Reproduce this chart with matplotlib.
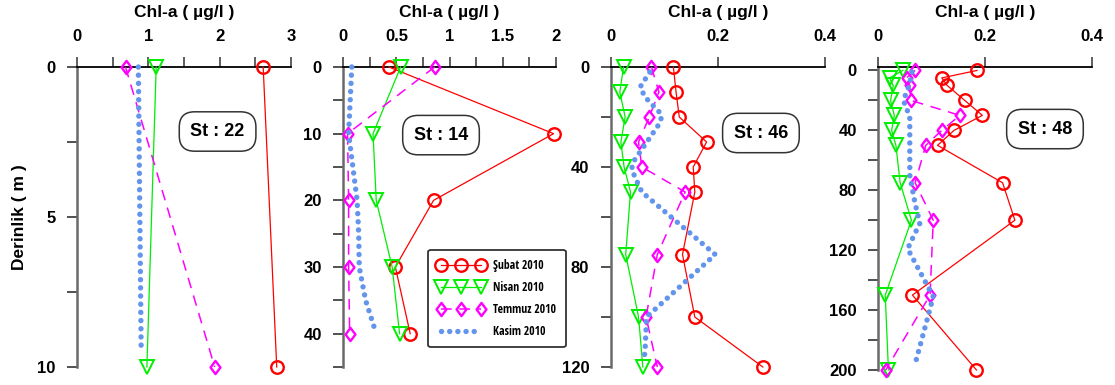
import matplotlib
matplotlib.use("Agg")
import matplotlib.pyplot as plt
from matplotlib.ticker import MultipleLocator, FixedLocator, FuncFormatter
from matplotlib.path import Path
from matplotlib import font_manager
from matplotlib.font_manager import FontProperties

# ---------------- data ----------------
series_labels = ["Şubat 2010", "Nisan 2010", "Temmuz 2010", "Kasim 2010"]

# St : 22
st22_depth = [0, 10]
st22_subat = [2.61, 2.80]
st22_nisan = [1.11, 0.98]
st22_temmuz = [0.68, 1.93]
st22_kasim_depth = [0, 9.5]
st22_kasim = [0.86, 0.90]

# St : 14
st14_depth = [0, 10, 20, 30, 40]
st14_subat = [0.43, 1.98, 0.85, 0.49, 0.63]
st14_nisan = [0.54, 0.28, 0.31, 0.46, 0.53]
st14_temmuz = [0.86, 0.04, 0.05, 0.05, 0.06]
st14_kasim_depth = [0, 10, 20, 25, 30, 35, 39.5]
st14_kasim = [0.08, 0.05, 0.13, 0.145, 0.15, 0.21, 0.30]

# St : 46
st46_depth = [0, 10, 20, 30, 40, 50, 75, 100, 120]
st46_subat = [0.117, 0.122, 0.128, 0.179, 0.154, 0.157, 0.134, 0.157, 0.284]
st46_nisan = [0.024, 0.017, 0.027, 0.019, 0.025, 0.037, 0.028, 0.052, 0.060]
st46_temmuz = [0.076, 0.090, 0.072, 0.052, 0.058, 0.139, 0.087, 0.066, 0.087]
st46_kasim_depth = [2, 8, 12, 19, 22, 38, 41, 50, 75, 100, 114, 118]
st46_kasim = [0.073, 0.055, 0.064, 0.095, 0.093, 0.042, 0.039, 0.058, 0.195, 0.067, 0.064, 0.061]

# St : 48
st48_depth = [0, 5, 10, 20, 30, 40, 50, 75, 100, 150, 200]
st48_subat = [0.185, 0.119, 0.129, 0.162, 0.195, 0.142, 0.111, 0.233, 0.256, 0.064, 0.184]
st48_nisan = [0.046, 0.021, 0.028, 0.023, 0.030, 0.025, 0.033, 0.041, 0.062, 0.013, 0.019]
st48_temmuz = [0.069, 0.053, 0.059, 0.061, 0.153, 0.119, 0.089, 0.069, 0.103, 0.097, 0.014]
st48_kasim_depth = [1, 9, 20, 31, 70, 89, 102, 119, 151, 167, 196]
st48_kasim = [0.063, 0.059, 0.047, 0.059, 0.059, 0.069, 0.078, 0.055, 0.103, 0.091, 0.069]

station_names = ["St : 22", "St : 14", "St : 46", "St : 48"]

# ---------------- style ----------------
names = {f.name for f in font_manager.fontManager.ttflist}
base_font = "Liberation Sans" if "Liberation Sans" in names else "DejaVu Sans"
plt.rcParams["font.family"] = [base_font, "DejaVu Sans"]
plt.rcParams["font.weight"] = "bold"


def pick_condensed():
    best = None
    best_score = -1
    for f in font_manager.fontManager.ttflist:
        st = str(f.stretch).lower()
        nm = f.name
        cond = ("narrow" in nm.lower() or "condensed" in nm.lower()
                or "condensed" in st or "narrow" in st)
        if not cond:
            continue
        score = 0
        if "Liberation" in nm:
            score += 4
        elif "Roboto" in nm or "Open Sans" in nm:
            score += 3
        else:
            score += 1
        w = f.weight
        if w == "bold" or (isinstance(w, int) and w >= 700):
            score += 5
        if "italic" in str(f.style).lower() or "oblique" in str(f.style).lower():
            score -= 10
        if "extra" in st or "ultra" in st:
            score -= 1
        if score > best_score:
            best_score = score
            best = f
    if best is not None:
        return FontProperties(fname=best.fname, size=8.5)
    return FontProperties(family=base_font, weight="bold", size=8)


leg_prop = pick_condensed()

RED = "#ff0000"
GREEN = "#00ee00"
MAG = "#ff00ff"
BLUE = "#6495ed"

diamond = Path([(0, 1), (0.75, 0), (0, -1), (-0.75, 0), (0, 1)],
               [Path.MOVETO, Path.LINETO, Path.LINETO, Path.LINETO, Path.CLOSEPOLY])

W, H = 1115, 385
fig = plt.figure(figsize=(W / 100, H / 100), dpi=100)


def px_axes(x0, x1, ytop, ybot):
    return fig.add_axes([x0 / W, 1 - ybot / H, (x1 - x0) / W, (ybot - ytop) / H])


panels = [
    dict(rect=(77, 291, 67, 367), xlim=(0, 3), ylim=(10, 0),
         xmaj=FixedLocator([0, 1, 2, 3]), xmin=0.5,
         ymaj=5, ymin=2.5,
         data=(st22_depth, st22_subat, st22_nisan, st22_temmuz, st22_kasim_depth, st22_kasim),
         box=(0.657, 0.785)),
    dict(rect=(343.3, 555.7, 67, 367), xlim=(0, 2), ylim=(45, 0),
         xmaj=FixedLocator([0, 0.5, 1, 1.5, 2]), xmin=0.25,
         ymaj=10, ymin=5,
         data=(st14_depth, st14_subat, st14_nisan, st14_temmuz, st14_kasim_depth, st14_kasim),
         box=(0.46, 0.773)),
    dict(rect=(610.7, 825, 67, 367), xlim=(0, 0.4), ylim=(120, 0),
         xmaj=FixedLocator([0, 0.2, 0.4]), xmin=0.2,
         ymaj=40, ymin=20,
         data=(st46_depth, st46_subat, st46_nisan, st46_temmuz, st46_kasim_depth, st46_kasim),
         box=(0.701, 0.78)),
    dict(rect=(878.3, 1091.7, 67.3, 370), xlim=(0, 0.4), ylim=(200, -2.1),
         xmaj=FixedLocator([0, 0.2, 0.4]), xmin=0.2,
         ymaj=40, ymin=20,
         data=(st48_depth, st48_subat, st48_nisan, st48_temmuz, st48_kasim_depth, st48_kasim),
         box=(0.781, 0.796)),
]


def fmt(v, pos):
    return "%g" % v


legend_handles = None
for i, p in enumerate(panels):
    x0, x1, yt, yb = p["rect"]
    ax = px_axes(x0, x1, yt, yb)
    d, sb, ns, tm, kd, ks = p["data"]
    h1, = ax.plot(sb, d, color=RED, lw=0.9, marker="o", ms=9, mfc="none",
                  mec=RED, mew=1.7, clip_on=False, zorder=3)
    h2, = ax.plot(ns, d, color=GREEN, lw=0.9, marker="v", ms=9.5, mfc="none",
                  mec=GREEN, mew=1.4, clip_on=False, zorder=3)
    h3, = ax.plot(tm, d, color=MAG, lw=1.1, ls=(0, (7, 5)), marker=diamond, ms=9.5,
                  mfc="none", mec=MAG, mew=1.7, clip_on=False, zorder=3)
    h4, = ax.plot(ks, kd, color=BLUE, lw=3.9, ls=(0, (0.01, 1.5)),
                  dash_capstyle="round", clip_on=False, zorder=4)
    if legend_handles is None:
        legend_handles = [h1, h2, h3, h4]

    ax.set_xlim(*p["xlim"])
    ax.set_ylim(*p["ylim"])
    ax.xaxis.tick_top()
    ax.xaxis.set_major_locator(p["xmaj"])
    ax.xaxis.set_minor_locator(MultipleLocator(p["xmin"]))
    ax.yaxis.set_major_locator(MultipleLocator(p["ymaj"]))
    ax.yaxis.set_minor_locator(MultipleLocator(p["ymin"]))
    ax.xaxis.set_major_formatter(FuncFormatter(fmt))
    ax.yaxis.set_major_formatter(FuncFormatter(fmt))
    if i == 3:
        ax.set_yticks([t for t in range(0, 201, 40)])
        ax.set_yticks([t for t in range(0, 201, 20)], minor=True)
    for s in ("right", "bottom"):
        ax.spines[s].set_visible(False)
    ax.spines["left"].set_color("#6a6a6a")
    ax.spines["left"].set_linewidth(1.8)
    ax.spines["top"].set_color("black")
    ax.spines["top"].set_linewidth(1.3)
    ax.tick_params(axis="x", which="both", direction="out", length=7.2, width=1.1,
                   color="#333333", pad=9.5, labelsize=12)
    ax.tick_params(axis="y", which="both", direction="out", length=7.5, width=1.1,
                   color="#222222", pad=8.0, labelsize=12)
    ax.patch.set_visible(False)
    for lab in ax.get_xticklabels() + ax.get_yticklabels():
        lab.set_fontweight("bold")

    # column title
    cx = (x0 + x1) / 2 / W
    fig.text(cx, 1 - 13 / H, "Chl-a ( µg/l )", ha="center", va="center",
             fontsize=12.5, fontweight="bold")

    # station box
    ax.text(p["box"][0], p["box"][1], station_names[i], transform=ax.transAxes,
            ha="center", va="center", fontsize=13, fontweight="bold", zorder=6,
            bbox=dict(boxstyle="round,pad=0.62,rounding_size=0.85", fc="white",
                      ec="#333333", lw=1.1))

    if i == 1:
        leg = ax.legend(legend_handles, series_labels, loc="lower left",
                        bbox_to_anchor=(0.40, 0.066), numpoints=3,
                        handlelength=4.0, handletextpad=0.7, labelspacing=0.75,
                        borderpad=0.8, borderaxespad=0, fancybox=True,
                        prop=leg_prop)
        leg.get_frame().set_edgecolor("#333333")
        leg.get_frame().set_linewidth(1.3)
        leg.get_frame().set_alpha(1)
        leg.set_zorder(7)

fig.text(20 / W, 1 - 217 / H, "Derinlik ( m )", rotation=90, ha="center",
         va="center", fontsize=12.5, fontweight="bold")

fig.savefig("out.png", dpi=100)
